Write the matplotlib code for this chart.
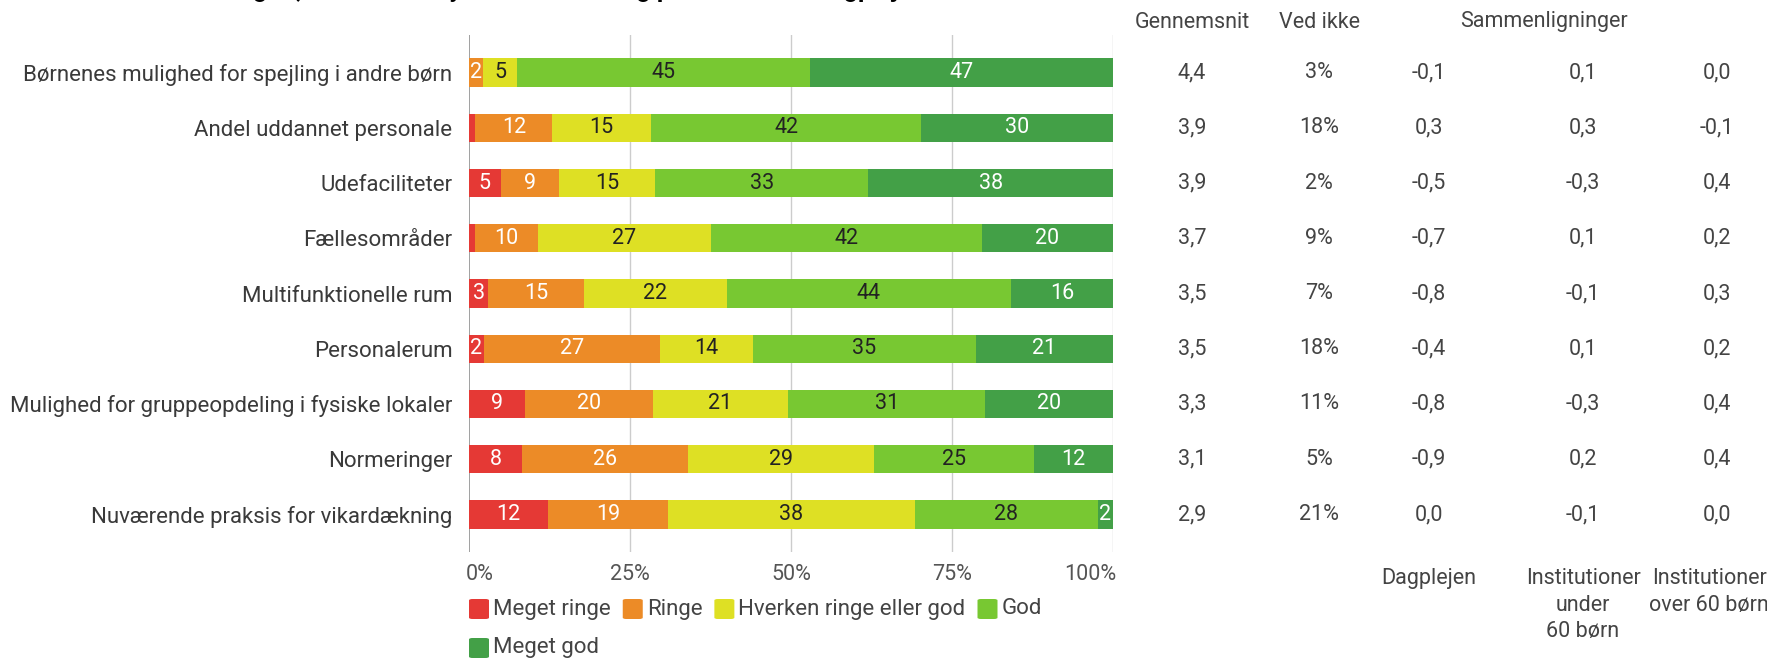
# Vurdering af fysiske rammer og bemanding - stablede søjler med gennemsnit og sammenligninger

import matplotlib
matplotlib.use("Agg")
import matplotlib.pyplot as plt
import numpy as np
from matplotlib.patches import FancyBboxPatch
from matplotlib.transforms import blended_transform_factory

plt.rcParams['font.family'] = ['Roboto', 'DejaVu Sans']

W, H = 1767, 658

kategorier = [
    "Børnenes mulighed for spejling i andre børn",
    "Andel uddannet personale",
    "Udefaciliteter",
    "Fællesområder",
    "Multifunktionelle rum",
    "Personalerum",
    "Mulighed for gruppeopdeling i fysiske lokaler",
    "Normeringer",
    "Nuværende praksis for vikardækning",
]

# andele i procent
meget_ringe = [0.0, 1.0, 4.9, 0.9, 3.0, 2.3, 8.7, 8.2, 12.3]
ringe = [2.2, 11.9, 9.0, 9.8, 14.8, 27.4, 19.9, 25.8, 18.6]
hverken = [5.3, 15.4, 15.0, 26.9, 22.2, 14.4, 20.9, 28.9, 38.3]
god = [45.4, 41.9, 33.1, 42.0, 44.2, 34.6, 30.7, 24.8, 28.4]
meget_god = [47.1, 29.8, 38.0, 20.4, 15.8, 21.3, 19.8, 12.3, 2.4]

serie_navne = ["Meget ringe", "Ringe", "Hverken ringe eller god", "God", "Meget god"]
farver = ["#E53935", "#EC8B27", "#DEE024", "#78C832", "#43A047"]
tekstfarver = ["white", "white", "#222222", "#222222", "white"]

gennemsnit = [4.4, 3.9, 3.9, 3.7, 3.5, 3.5, 3.3, 3.1, 2.9]
ved_ikke = [3, 18, 2, 9, 7, 18, 11, 5, 21]
dagplejen = [-0.1, 0.3, -0.5, -0.7, -0.8, -0.4, -0.8, -0.9, 0.0]
inst_under = [0.1, 0.3, -0.3, 0.1, -0.1, 0.1, -0.3, 0.2, -0.1]
inst_over = [0.0, -0.1, 0.4, 0.2, 0.3, 0.2, 0.4, 0.4, 0.0]

xticks = [0, 25, 50, 75, 100]

fs = 15.5
fs_lab = 16
grå = "#444444"

fig = plt.figure(figsize=(W / 100, H / 100), dpi=100)
ax = fig.add_axes([469 / W, 1 - 552 / H, 644 / W, 517 / H])

serier = [meget_ringe, ringe, hverken, god, meget_god]
y = np.arange(len(kategorier))
venstre = np.zeros(len(kategorier))
for vals, navn, farve, tf in zip(serier, serie_navne, farver, tekstfarver):
    vals = np.array(vals)
    ax.barh(y, vals, left=venstre, height=0.51, color=farve, label=navn, zorder=2)
    for yi, (l, v) in enumerate(zip(venstre, vals)):
        if v >= 1.5:
            ax.text(l + v / 2, yi, f"{v:.0f}", ha="center", va="center",
                    color=tf, fontsize=fs, zorder=3)
    venstre += vals

ax.set_xlim(0, 100)
ax.set_ylim(len(kategorier) - 0.32, -0.68)
for xt in xticks:
    ax.axvline(xt, color="#999999" if xt == 0 else "#cccccc", lw=1.3 if xt == 0 else 1.0, zorder=1)
for s in ax.spines.values():
    s.set_visible(False)

ax.set_yticks(y, kategorier)
ax.tick_params(axis="y", length=0, pad=12, labelsize=fs_lab, labelcolor="#3a3a3a")
ax.set_xticks([])
for xt in xticks:
    ha = "left" if xt == 0 else ("right" if xt == 100 else "center")
    dx = -3 if xt == 0 else (3 if xt == 100 else 0)
    fig.text((469 + 6.44 * xt + dx) / W, 1 - 574 / H, f"{xt}%", ha=ha, va="center",
             fontsize=fs, color="#555555")

# tabel til højre
trans = blended_transform_factory(fig.transFigure, ax.transData)
def komma(v):
    return f"{v:.1f}".replace(".", ",")

kolonner = [
    (1192, [komma(v) for v in gennemsnit]),
    (1319, [f"{v}%" for v in ved_ikke]),
    (1429, [komma(v) for v in dagplejen]),
    (1583, [komma(v) for v in inst_under]),
    (1717, [komma(v) for v in inst_over]),
]
for xpix, tekster in kolonner:
    for yi, t in enumerate(tekster):
        ax.text(xpix / W, yi, t, transform=trans, ha="center", va="center",
                fontsize=fs, color=grå, clip_on=False)

fig.text(1192 / W, 1 - 22 / H, "Gennemsnit", ha="center", va="center", fontsize=fs, color=grå)
fig.text(1319 / W, 1 - 22 / H, "Ved ikke", ha="center", va="center", fontsize=fs, color=grå)
fig.text(1544 / W, 1 - 22 / H, "Sammenligninger", ha="center", va="center", fontsize=fs, color=grå)

fig.text(1429 / W, 1 - 568 / H, "Dagplejen", ha="center", va="top", fontsize=fs, color=grå)
fig.text(1583 / W, 1 - 568 / H, "Institutioner\nunder\n60 børn", ha="center", va="top",
         fontsize=fs, color=grå, linespacing=1.35)
fig.text(1709 / W, 1 - 568 / H, "Institutioner\nover 60 børn", ha="center", va="top",
         fontsize=fs, color=grå, linespacing=1.35)

# titel (skåret af i toppen)
fig.text(12 / W, 1 + 3 / H, "Forældrenes vurdering af, hvordan de fysiske rammer og personale er i dagplejen",
         ha="left", va="baseline", fontsize=18, fontweight="bold", color="black")

# forklaring tegnet manuelt
renderer = fig.canvas.get_renderer()
rækker = [(serie_navne[:4], farver[:4], 609), (serie_navne[4:], farver[4:], 648)]
for navne, fv, ypix in rækker:
    x = 469
    for navn, farve in zip(navne, fv):
        sq = 20
        fig.patches.append(FancyBboxPatch((x / W, 1 - (ypix + sq / 2) / H), sq / W, sq / H,
                                          boxstyle="round,pad=0,rounding_size=0.002",
                                          transform=fig.transFigure, facecolor=farve,
                                          edgecolor="none", figure=fig))
        t = fig.text((x + sq + 4) / W, 1 - ypix / H, navn, ha="left", va="center",
                     fontsize=fs_lab, color=grå)
        bb = t.get_window_extent(renderer)
        x = bb.x1 + 12

fig.savefig("out.png", dpi=100, facecolor="white")
